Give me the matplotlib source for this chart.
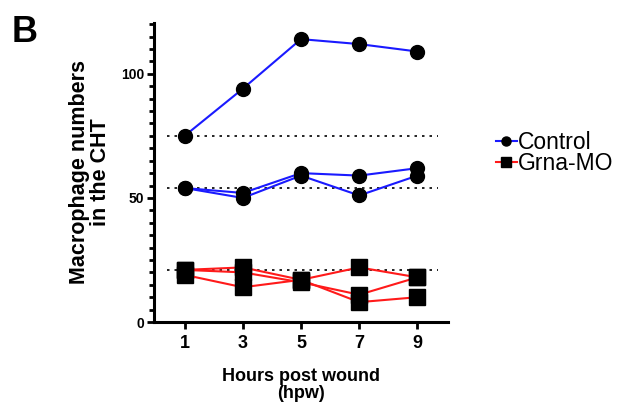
import numpy as np
import matplotlib
matplotlib.use('Agg')
import matplotlib.pyplot as plt
from matplotlib.ticker import MultipleLocator
from matplotlib.lines import Line2D

plt.rcParams['font.family'] = ['Liberation Sans', 'DejaVu Sans']

#=====================
# DATA
#=====================
hours = [1, 3, 5, 7, 9]

control_1 = [75, 94, 114, 112, 109]
control_2 = [54, 52, 60, 59, 62]
control_3 = [54, 50, 59, 51, 59]

grna_1 = [21, 22, 17, 8, 10]
grna_2 = [21, 20, 16, 11, 18]
grna_3 = [19, 14, 17, 22, 18]

baselines = [75, 54, 21]

#=====================
# FIGURE
#=====================
fig = plt.figure(figsize=(6.19, 4.05), dpi=100)
ax = fig.add_axes([154 / 619, 83 / 405, 294 / 619, 299 / 405])

for y in baselines:
    ax.hlines(y, 0.4, 9.7, colors='black', linestyles=(0, (1.5, 3)), linewidth=1.2, zorder=1)

for series in [control_1, control_2, control_3]:
    ax.plot(hours, series, color='#1a1aff', linewidth=1.5, marker='o',
            markersize=10, markerfacecolor='black', markeredgecolor='black', zorder=3)
for series in [grna_1, grna_2, grna_3]:
    ax.plot(hours, series, color='#ff1a1a', linewidth=1.5, marker='s',
            markersize=11, markerfacecolor='black', markeredgecolor='black', zorder=3)

ax.set_xlim(-0.05, 10.05)
ax.set_ylim(0, 120.5)
ax.set_xticks(hours)
ax.set_yticks([0, 50, 100])
ax.yaxis.set_minor_locator(MultipleLocator(5))

for s in ['top', 'right']:
    ax.spines[s].set_visible(False)
for s in ['left', 'bottom']:
    ax.spines[s].set_linewidth(2.2)

ax.tick_params(axis='y', which='major', length=5, width=2, labelsize=10, pad=2)
ax.tick_params(axis='y', which='minor', length=3.5, width=2)
ax.tick_params(axis='x', which='major', length=5, width=2, labelsize=13, pad=4)
for lab in ax.get_xticklabels() + ax.get_yticklabels():
    lab.set_fontweight('bold')

ax.set_ylabel('Macrophage numbers\nin the CHT', fontsize=15.5, fontweight='bold',
              linespacing=1.0, labelpad=7)
ax.set_xlabel('Hours post wound\n(hpw)', fontsize=13, fontweight='bold',
              linespacing=1.0, labelpad=12)

fig.text(12 / 619, 1 - 42 / 405, 'B', fontsize=26, fontweight='bold',
         ha='left', va='baseline')

handles = [
    Line2D([], [], color='#1a1aff', linewidth=1.5, marker='o', markersize=6.5,
           markerfacecolor='black', markeredgecolor='black'),
    Line2D([], [], color='#ff1a1a', linewidth=1.5, marker='s', markersize=6.5,
           markerfacecolor='black', markeredgecolor='black'),
]
fig.legend(handles, ['Control', 'Grna-MO'], loc='center left',
           bbox_to_anchor=(496 / 619, 1 - 153 / 405), frameon=False,
           fontsize=16.5, handlelength=0.9, handletextpad=0.05, labelspacing=-0.1,
           borderpad=0, borderaxespad=0)

fig.savefig('out.png', dpi=100)
